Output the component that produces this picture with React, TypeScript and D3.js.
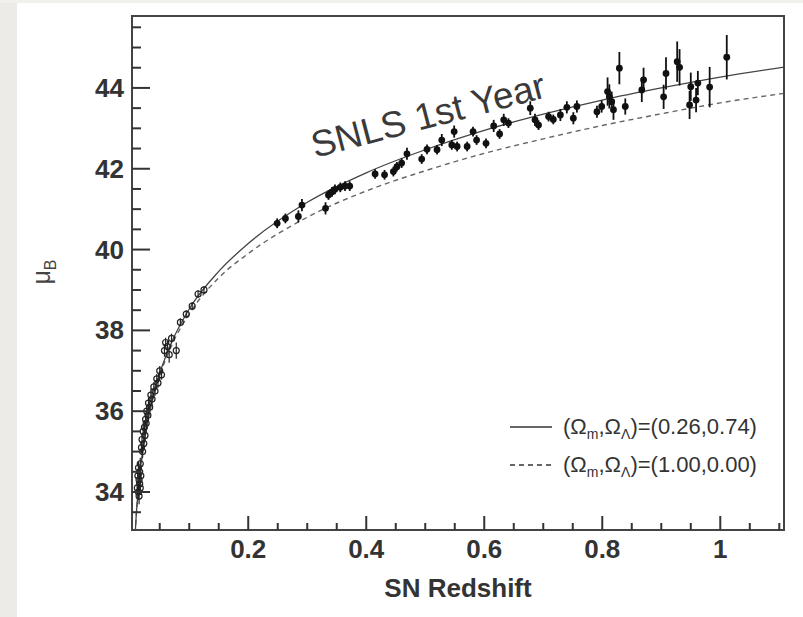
import React, { useEffect, useRef } from 'react'
import * as d3 from 'd3'

// low-z (open circles)
const lowZ = [0.012, 0.013, 0.014, 0.014, 0.015, 0.015, 0.016, 0.016, 0.017, 0.017, 0.018, 0.019, 0.020, 0.021, 0.022, 0.023, 0.024, 0.025, 0.026, 0.027, 0.028, 0.030, 0.031, 0.033, 0.035, 0.037, 0.040, 0.042, 0.045, 0.047, 0.050, 0.053, 0.058, 0.060, 0.063, 0.066, 0.070, 0.078, 0.085, 0.095, 0.105, 0.115, 0.125]
const lowMu = [34.1, 34.4, 34.0, 34.6, 34.3, 33.9, 34.5, 34.2, 34.7, 34.1, 34.4, 35.1, 35.3, 35.0, 35.5, 35.2, 35.6, 35.4, 35.8, 35.7, 36.0, 35.9, 36.2, 36.1, 36.4, 36.3, 36.6, 36.5, 36.8, 36.7, 37.0, 36.9, 37.5, 37.7, 37.6, 37.4, 37.8, 37.5, 38.2, 38.4, 38.6, 38.9, 39.0]
const lowErr = [0.15, 0.15, 0.2, 0.15, 0.15, 0.2, 0.15, 0.15, 0.15, 0.15, 0.15, 0.15, 0.15, 0.15, 0.15, 0.15, 0.15, 0.15, 0.15, 0.15, 0.15, 0.15, 0.15, 0.15, 0.15, 0.15, 0.12, 0.12, 0.12, 0.12, 0.12, 0.12, 0.15, 0.12, 0.15, 0.2, 0.12, 0.2, 0.1, 0.1, 0.1, 0.1, 0.1]

// SNLS first year (filled points)
const snlsZ = [0.249, 0.263, 0.285, 0.291, 0.331, 0.336, 0.342, 0.347, 0.356, 0.364, 0.372, 0.415, 0.431, 0.446, 0.452, 0.460, 0.469, 0.494, 0.503, 0.520, 0.528, 0.545, 0.549, 0.554, 0.571, 0.581, 0.587, 0.603, 0.616, 0.626, 0.633, 0.641, 0.678, 0.686, 0.692, 0.709, 0.717, 0.729, 0.740, 0.751, 0.757, 0.791, 0.799, 0.809, 0.812, 0.816, 0.819, 0.829, 0.839, 0.867, 0.870, 0.904, 0.908, 0.927, 0.931, 0.948, 0.950, 0.959, 0.962, 0.982, 1.011]
const snlsMu = [40.65, 40.77, 40.82, 41.1, 41.02, 41.35, 41.43, 41.49, 41.54, 41.57, 41.57, 41.87, 41.85, 41.93, 42.05, 42.14, 42.37, 42.24, 42.48, 42.47, 42.71, 42.59, 42.92, 42.55, 42.55, 42.92, 42.71, 42.63, 43.06, 42.86, 43.21, 43.13, 43.5, 43.21, 43.08, 43.29, 43.22, 43.33, 43.52, 43.25, 43.54, 43.41, 43.54, 43.91, 43.79, 43.66, 43.46, 44.49, 43.54, 43.95, 44.2, 43.78, 44.36, 44.65, 44.51, 43.58, 44.03, 43.7, 44.12, 44.02, 44.76]
const snlsErr = [0.12, 0.12, 0.15, 0.15, 0.15, 0.12, 0.12, 0.12, 0.12, 0.12, 0.12, 0.12, 0.12, 0.12, 0.12, 0.12, 0.15, 0.12, 0.12, 0.12, 0.15, 0.12, 0.15, 0.12, 0.12, 0.12, 0.12, 0.12, 0.15, 0.12, 0.15, 0.12, 0.17, 0.15, 0.12, 0.12, 0.12, 0.15, 0.15, 0.15, 0.15, 0.15, 0.15, 0.35, 0.3, 0.25, 0.25, 0.4, 0.2, 0.3, 0.3, 0.3, 0.4, 0.5, 0.45, 0.35, 0.35, 0.3, 0.3, 0.5, 0.55]

// model curves
const modelZ = [0.005, 0.01, 0.015, 0.02, 0.03, 0.04, 0.05, 0.07, 0.1, 0.15, 0.2, 0.3, 0.4, 0.5, 0.6, 0.7, 0.8, 0.9, 1.0, 1.11]
const lcdmMu = [31.86, 33.38, 34.26, 34.9, 35.8, 36.44, 36.94, 37.7, 38.53, 39.46, 40.15, 41.17, 41.9, 42.47, 42.95, 43.35, 43.7, 44.0, 44.27, 44.52]
const edsMu = [31.85, 33.36, 34.25, 34.87, 35.76, 36.39, 36.88, 37.62, 38.41, 39.3, 39.9, 40.8, 41.45, 41.95, 42.38, 42.74, 43.07, 43.36, 43.63, 43.87]

const xTickLabels = [0.2, 0.4, 0.6, 0.8, 1]
const yTickLabels = [34, 36, 38, 40, 42, 44]
const legendLabels = [
    { dash: null, values: '(0.26,0.74)' },
    { dash: '5,4', values: '(1.00,0.00)' }
]

const W = 803, H = 617
const frame = { left: 132, right: 784, top: 16, bottom: 530 }
const ink = '#333'
const font = 'Liberation Sans, Arial, sans-serif'

function buildChart(node: SVGSVGElement) {
    const svg = d3.select(node)
    svg.selectAll('*').remove()

    // page background with the grey strip
    svg.append('rect').attr('width', W).attr('height', H).attr('fill', '#fff')
    svg.append('rect').attr('width', 17).attr('height', H).attr('fill', '#ecebe7')
    svg.append('rect').attr('width', W).attr('height', 3).attr('fill', '#f1f0ed')

    const x = d3.scaleLinear().domain([0.003, 1.108]).range([frame.left, frame.right])
    const y = d3.scaleLinear().domain([33.06, 45.78]).range([frame.bottom, frame.top])

    svg.append('clipPath').attr('id', 'plot-clip')
        .append('rect')
        .attr('x', frame.left).attr('y', frame.top)
        .attr('width', frame.right - frame.left).attr('height', frame.bottom - frame.top)

    const plot = svg.append('g').attr('clip-path', 'url(#plot-clip)')

    // model curves
    const line = (mu: number[]) => d3.line<number>()
        .x((d) => x(d))
        .y((d, i) => y(mu[i]))
        .curve(d3.curveMonotoneX)(modelZ)

    plot.append('path')
        .attr('d', line(edsMu))
        .attr('fill', 'none')
        .attr('stroke', '#666')
        .attr('stroke-width', 1.4)
        .attr('stroke-dasharray', '5,4')

    plot.append('path')
        .attr('d', line(lcdmMu))
        .attr('fill', 'none')
        .attr('stroke', '#444')
        .attr('stroke-width', 1.3)

    // low-z points
    const low = plot.append('g')
    lowZ.forEach((z, i) => {
        low.append('line')
            .attr('x1', x(z)).attr('x2', x(z))
            .attr('y1', y(lowMu[i] - lowErr[i])).attr('y2', y(lowMu[i] + lowErr[i]))
            .attr('stroke', '#222').attr('stroke-width', 1.2)
    })
    low.selectAll('circle')
        .data(lowZ)
        .join('circle')
        .attr('cx', (d) => x(d))
        .attr('cy', (d, i) => y(lowMu[i]))
        .attr('r', 3)
        .attr('fill', 'none')
        .attr('stroke', '#222')
        .attr('stroke-width', 1.2)

    // SNLS points
    const hi = plot.append('g')
    snlsZ.forEach((z, i) => {
        hi.append('line')
            .attr('x1', x(z)).attr('x2', x(z))
            .attr('y1', y(snlsMu[i] - snlsErr[i])).attr('y2', y(snlsMu[i] + snlsErr[i]))
            .attr('stroke', '#111').attr('stroke-width', 1.8)
    })
    hi.selectAll('circle')
        .data(snlsZ)
        .join('circle')
        .attr('cx', (d) => x(d))
        .attr('cy', (d, i) => y(snlsMu[i]))
        .attr('r', 3.4)
        .attr('fill', '#111')

    // frame
    svg.append('rect')
        .attr('x', frame.left).attr('y', frame.top)
        .attr('width', frame.right - frame.left).attr('height', frame.bottom - frame.top)
        .attr('fill', 'none')
        .attr('stroke', '#444')
        .attr('stroke-width', 2)

    // x ticks (inward)
    const xt = d3.range(1, 23).map((k) => Math.round(k * 5) / 100)
    svg.append('g').selectAll('line')
        .data(xt)
        .join('line')
        .attr('x1', (d) => x(d)).attr('x2', (d) => x(d))
        .attr('y1', frame.bottom)
        .attr('y2', (d) => frame.bottom - (xTickLabels.includes(d) ? 14 : 7))
        .attr('stroke', '#333').attr('stroke-width', 2)

    svg.append('g').selectAll('text')
        .data(xTickLabels)
        .join('text')
        .attr('x', (d) => x(d))
        .attr('y', 558)
        .attr('text-anchor', 'middle')
        .attr('font-family', font)
        .attr('font-weight', 'bold')
        .attr('font-size', 26)
        .attr('fill', ink)
        .text((d) => String(d))

    // y ticks (inward)
    const yt = d3.range(0, 25).map((k) => 33.5 + k * 0.5)
    svg.append('g').selectAll('line')
        .data(yt)
        .join('line')
        .attr('x1', frame.left)
        .attr('x2', (d) => frame.left + (yTickLabels.includes(d) ? 18 : 9))
        .attr('y1', (d) => y(d)).attr('y2', (d) => y(d))
        .attr('stroke', '#333').attr('stroke-width', 2)

    svg.append('g').selectAll('text')
        .data(yTickLabels)
        .join('text')
        .attr('x', 124)
        .attr('y', (d) => y(d) + 9)
        .attr('text-anchor', 'end')
        .attr('font-family', font)
        .attr('font-weight', 'bold')
        .attr('font-size', 26)
        .attr('fill', ink)
        .text((d) => String(d))

    // axis titles
    svg.append('text')
        .attr('x', (frame.left + frame.right) / 2)
        .attr('y', 597)
        .attr('text-anchor', 'middle')
        .attr('font-family', font)
        .attr('font-weight', 'bold')
        .attr('font-size', 26)
        .attr('fill', ink)
        .text('SN Redshift')

    const yl = svg.append('text')
        .attr('transform', 'translate(50,272) rotate(-90)')
        .attr('text-anchor', 'middle')
        .attr('font-family', font)
        .attr('font-size', 25)
        .attr('fill', '#444')
    yl.append('tspan').text('μ')
    yl.append('tspan').attr('font-size', 16).attr('dy', 6).text('B')

    // plot title
    svg.append('text')
        .attr('transform', 'translate(315,158) rotate(-14.7)')
        .attr('font-family', font)
        .attr('font-size', 37)
        .attr('fill', '#3a3a3a')
        .text('SNLS 1st Year')

    // legend
    legendLabels.forEach((item, i) => {
        const base = 434 + i * 38
        svg.append('line')
            .attr('x1', 510).attr('x2', 552)
            .attr('y1', base - 7).attr('y2', base - 7)
            .attr('stroke', '#333')
            .attr('stroke-width', 1.3)
            .attr('stroke-dasharray', item.dash)
        const t = svg.append('text')
            .attr('x', 563).attr('y', base)
            .attr('font-family', font)
            .attr('font-size', 22)
            .attr('fill', ink)
        t.append('tspan').text('(Ω')
        t.append('tspan').attr('font-size', 14).attr('dy', 5).text('m')
        t.append('tspan').attr('dy', -5).text(',Ω')
        t.append('tspan').attr('font-size', 14).attr('dy', 5).text('Λ')
        t.append('tspan').attr('dy', -5).text(')=' + item.values)
    })
}

export default function App() {
    const ref = useRef<SVGSVGElement>(null)

    useEffect(() => {
        if (ref.current) buildChart(ref.current)
    }, [])

    return (
        <svg ref={ref} width={W} height={H} style={{ position: 'absolute', left: 0, top: 0 }} />
    )
}
